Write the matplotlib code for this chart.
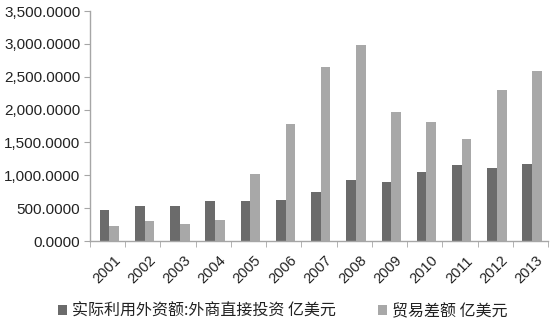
#=========================================================================
# fdi-trade.py
#=========================================================================

import matplotlib
matplotlib.use( 'Agg' )
import matplotlib.pyplot as plt
import matplotlib.transforms as mtransforms
import numpy as np

#-------------------------------------------------------------------------
# Configure matplotlib
#-------------------------------------------------------------------------

plt.rcParams['font.family'] = [ 'Liberation Sans', 'Noto Sans CJK SC', 'DejaVu Sans' ]
plt.rcParams['font.size']   = 11

#-------------------------------------------------------------------------
# Raw data
#-------------------------------------------------------------------------

years = [ '2001', '2002', '2003', '2004', '2005', '2006', '2007',
          '2008', '2009', '2010', '2011', '2012', '2013' ]

# 实际利用外资额:外商直接投资 (亿美元)
fdi = [ 468, 527, 535, 606, 603, 630, 748, 924, 900, 1057, 1160, 1117, 1176 ]

# 贸易差额 (亿美元)
trade = [ 225, 304, 255, 321, 1020, 1775, 2643, 2981, 1961, 1815, 1549, 2303, 2592 ]

series_labels = [ '实际利用外资额:外商直接投资 亿美元', '贸易差额 亿美元' ]

yticks = [ 0, 500, 1000, 1500, 2000, 2500, 3000, 3500 ]

#-------------------------------------------------------------------------
# Plot parameters
#-------------------------------------------------------------------------

colors = [ '#6b6b6b', '#a8a8a8' ]
axis_color = '#a6a6a6'

n     = len( years )
ind   = np.arange( n ) + 0.5
width = 0.275

#-------------------------------------------------------------------------
# Create plot
#-------------------------------------------------------------------------

fig = plt.figure( figsize=(5.5, 3.26), dpi=100 )
ax  = fig.add_axes( [ 0.1636, 0.2607, 0.8328, 0.7053 ] )

rects = []
rects.append( ax.bar( ind - width/2 + 0.05, fdi,   width, color=colors[0] ) )
rects.append( ax.bar( ind + width/2 + 0.05, trade, width, color=colors[1] ) )

ax.set_xlim( 0, n )
ax.set_ylim( 0, 3500 )

# y axis

ax.set_yticks( yticks )
ax.set_yticklabels( [ '{:,.4f}'.format( v ) for v in yticks ] )
ax.tick_params( axis='y', length=4, color=axis_color, pad=3,
                labelcolor='#222222', labelsize=11 )

# x axis: labels at centres, tick marks at boundaries

ax.set_xticks( ind )
ax.set_xticklabels( years, rotation=45, ha='right', va='top',
                    rotation_mode='anchor', fontsize=10.5, color='#222222' )
ax.tick_params( axis='x', which='major', length=0, pad=9 )
ax.set_xticks( np.arange( 0, n + 1 ), minor=True )
ax.tick_params( axis='x', which='minor', length=4, color=axis_color )

# nudge the rotated labels a little to the right
offset = mtransforms.ScaledTranslation( 4/72.0, 0, fig.dpi_scale_trans )
for lbl in ax.get_xticklabels():
  lbl.set_transform( lbl.get_transform() + offset )

for side in [ 'top', 'right' ]:
  ax.spines[side].set_visible( False )
for side in [ 'left', 'bottom' ]:
  ax.spines[side].set_color( axis_color )
  ax.spines[side].set_linewidth( 1.0 )

# Legend

leg = fig.legend(
  rects, series_labels, loc='center', bbox_to_anchor=(0.514, 0.045),
  ncol=2, frameon=False, handlelength=0.6, handleheight=0.6,
  handletextpad=0.3, columnspacing=2.6,
  prop={ 'family': [ 'Noto Sans CJK SC', 'DejaVu Sans' ], 'size': 11.5 }
)
for t in leg.get_texts():
  t.set_color( '#222222' )

#-------------------------------------------------------------------------
# Generate PNG
#-------------------------------------------------------------------------

plt.savefig( 'out.png', dpi=100 )
